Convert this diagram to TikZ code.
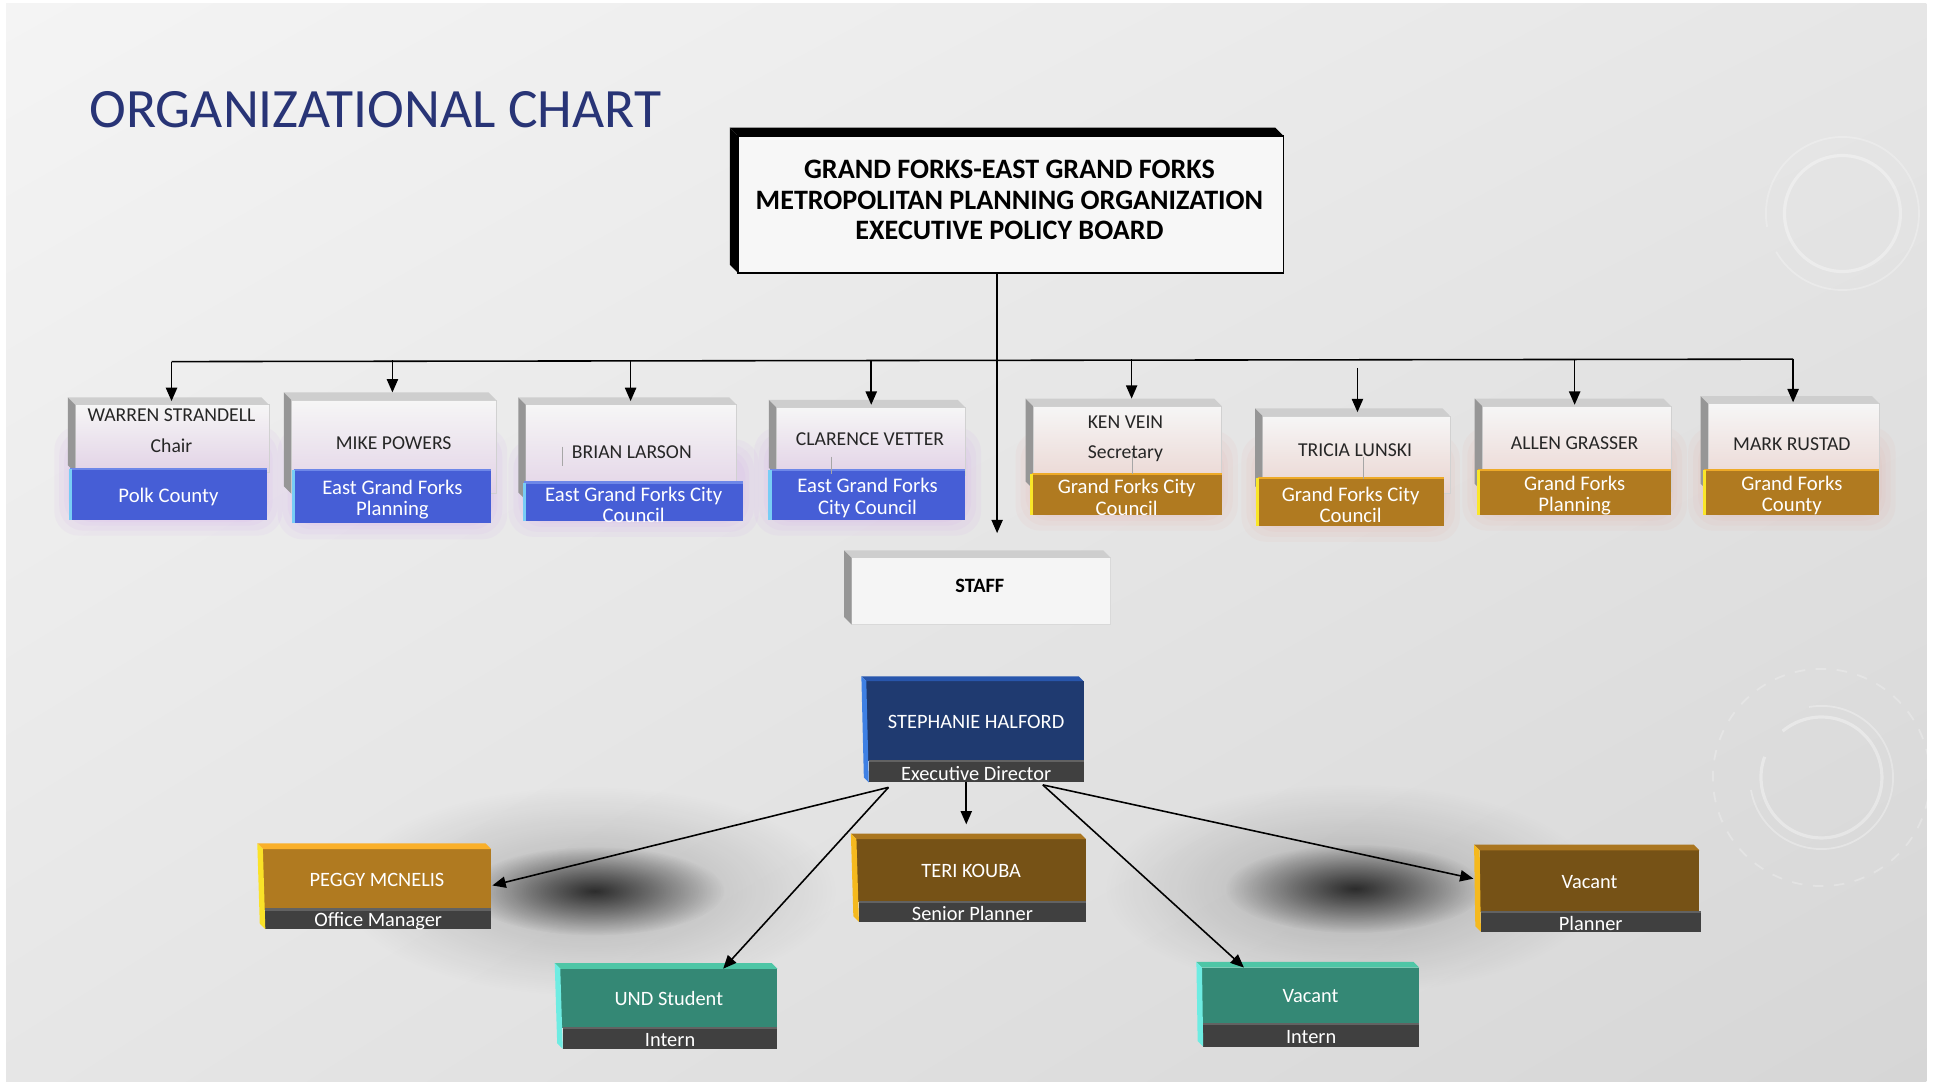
\documentclass[tikz,border=0pt]{standalone}
\usepackage{fontspec}
\setmainfont{Carlito}
\usetikzlibrary{arrows.meta,calc,fit,fadings,shadings}
\tikzfading[name=softblob, inner color=transparent!0, outer color=transparent!100]

\definecolor{bgA}{RGB}{244,244,244}
\definecolor{bgB}{RGB}{230,230,230}
\definecolor{bgC}{RGB}{214,214,214}
\definecolor{titleblue}{RGB}{40,52,118}
\definecolor{lblblue}{RGB}{70,94,214}
\definecolor{edgeblue}{RGB}{120,205,245}
\definecolor{toplblue}{RGB}{110,135,232}
\definecolor{lblorange}{RGB}{176,122,32}
\definecolor{edgeorange}{RGB}{250,230,40}
\definecolor{toplorange}{RGB}{238,170,40}
\definecolor{glowblue}{RGB}{205,150,235}
\definecolor{gloworange}{RGB}{235,165,155}
\definecolor{gbotblue}{RGB}{226,210,230}
\definecolor{gbotorange}{RGB}{234,212,208}
\definecolor{gtop}{RGB}{246,246,246}
\definecolor{gstrip}{RGB}{206,206,206}
\definecolor{gside}{RGB}{150,150,150}
\definecolor{navyface}{RGB}{31,58,112}
\definecolor{navytop}{RGB}{40,86,172}
\definecolor{navyside}{RGB}{62,128,228}
\definecolor{orface}{RGB}{176,122,32}
\definecolor{ortop}{RGB}{250,176,42}
\definecolor{orside}{RGB}{250,226,40}
\definecolor{brface}{RGB}{118,82,22}
\definecolor{brtop}{RGB}{170,118,32}
\definecolor{brside}{RGB}{245,185,30}
\definecolor{tlface}{RGB}{52,136,117}
\definecolor{tltop}{RGB}{78,198,166}
\definecolor{tlside}{RGB}{110,236,226}
\definecolor{dlbl}{RGB}{64,64,64}
\definecolor{dlbltop}{RGB}{98,98,98}

% extrusion: node, depth, top colour, side colour, node whose south-west ends the side strip
\newcommand\extr[5]{%
  \fill[#3] (#1.north west) -- ++(-#2,-#2) -- ($(#1.north east)+(-#2,-#2)$) -- (#1.north east) -- cycle;
  \fill[#4] (#1.north west) -- ++(-#2,-#2) -- ($(#5.south west)+(-#2,-#2)$) -- (#5.south west) -- cycle;
}

\begin{document}
\begin{tikzpicture}[x=0.012341cm, y=-0.012341cm,
  arr/.style={-{Triangle[length=3.8pt,width=3.2pt]}, line width=0.45pt, black},
  line/.style={line width=0.45pt, black},
  gface/.style={inner sep=0, outer sep=0, top color=gtop, bottom color=#1, draw=black!18, line width=0.2pt},
  lbl/.style={inner sep=0, outer sep=0, fill=#1},
  lbltext/.style={inner sep=0, outer sep=0, text=white, align=center, font=\fontsize{5.9}{6.1}\selectfont},
  nmtext/.style={inner sep=0, outer sep=0, align=center, text=black!85, font=\fontsize{5.6}{8.6}\selectfont},
  sface/.style={inner sep=0, outer sep=0, fill=#1},
  sftext/.style={inner sep=0, outer sep=0, text=white, align=center, font=\fontsize{5.8}{7}\selectfont},
  slbl/.style={inner sep=0, outer sep=0, fill=dlbl},
  sltext/.style={inner sep=0, outer sep=0, text=white, align=center, font=\fontsize{5.8}{6}\selectfont},
  deco/.style={white, opacity=0.35, line width=0.9pt},
]
\useasboundingbox (0,0) rectangle (1568,876);
\fill[white] (0,0) rectangle (1568,876);
\shade[upper left=bgA, upper right=bgB, lower left=bgB, lower right=bgC] (5,3) rectangle (1561,876);

% faint decoration
\draw[deco] (1493,173) ++(70:47) arc (70:-340:47);
\draw[deco, line width=0.5pt, opacity=0.25] (1493,173) ++(150:62) arc (150:-190:62);
\draw[deco] (1476,630) ++(200:49) arc (200:-130:49);
\draw[deco, line width=0.5pt, opacity=0.3] (1476,630) ++(170:58) arc (170:-100:58);
\draw[deco, line width=0.5pt, dashed, opacity=0.25] (1476,630) circle [radius=88];
\draw[deco, line width=0.7pt, opacity=0.3] (45,890) ++(95:72) arc (95:0:72);
\draw[deco, line width=0.5pt, opacity=0.25] (45,890) ++(100:90) arc (100:0:90);

% soft shadows
\fill[black, opacity=0.22, path fading=softblob] (478,722) ellipse [x radius=200, y radius=85];
\fill[black, opacity=0.75, path fading=softblob] (482,722) ellipse [x radius=105, y radius=36];
\fill[black, opacity=0.22, path fading=softblob] (1095,720) ellipse [x radius=200, y radius=85];
\fill[black, opacity=0.75, path fading=softblob] (1098,720) ellipse [x radius=105, y radius=36];

% title
\node[anchor=west, inner sep=0, text=titleblue, font=\fontsize{15.8}{19}\selectfont] (title) at (72,89) {ORGANIZATIONAL CHART};

% executive policy board
\node[fit={(598,110) (1040,221)}, inner sep=0, outer sep=0, fill=white!97!black, draw=black, line width=0.5pt] (board) {};
\extr{board}{6.5}{black}{black}{board}
\node[inner sep=0, align=center, font=\bfseries\fontsize{8}{8.8}\selectfont] (board-t) at (818,162)
      {GRAND FORKS-EAST GRAND FORKS\\METROPOLITAN PLANNING ORGANIZATION\\EXECUTIVE POLICY BOARD};

% board members
\foreach \id/\fa/\fb/\la/\lb/\nxy/\nm/\lt/\lcol/\gcol/\ecol/\tcol/\gbot in {
  wa/{61,328}/{218,383}/{57,380}/{216,421}/{139,349}/{WARREN STRANDELL\\Chair}/{Polk County}/lblblue/glowblue/edgeblue/toplblue/gbotblue,
  mp/{236,324}/{402,400}/{238,381}/{398,424}/{319,359}/{MIKE POWERS}/{East Grand Forks\\Planning}/lblblue/glowblue/edgeblue/toplblue/gbotblue,
  bl/{426,328}/{597,405}/{425,391}/{602,422}/{512,366}/{BRIAN LARSON}/{East Grand Forks City\\Council}/lblblue/glowblue/edgeblue/toplblue/gbotblue,
  cv/{629,330}/{782,385}/{624,381}/{782,421}/{705,356}/{CLARENCE VETTER}/{East Grand Forks\\City Council}/lblblue/glowblue/edgeblue/toplblue/gbotblue,
  kv/{837,329}/{990,396}/{836,384}/{990,417}/{912,355.5}/{KEN VEIN\\Secretary}/{Grand Forks City\\Council}/lblorange/gloworange/edgeorange/toplorange/gbotorange,
  tl/{1023,337}/{1175,400}/{1019,387}/{1170,426}/{1098,365}/{TRICIA LUNSKI}/{Grand Forks City\\Council}/lblorange/gloworange/edgeorange/toplorange/gbotorange,
  ag/{1201,329}/{1354,398}/{1198,381}/{1354,417}/{1276,359}/{ALLEN GRASSER}/{Grand Forks\\Planning}/lblorange/gloworange/edgeorange/toplorange/gbotorange,
  mr/{1384,327}/{1523,398}/{1381,381}/{1523,417}/{1452,360}/{MARK RUSTAD}/{Grand Forks\\County}/lblorange/gloworange/edgeorange/toplorange/gbotorange}
{
  \foreach \k in {13,9,5,2}
    \fill[\gcol, opacity=0.08, rounded corners=7] ($(\la)+(-\k,-\k-22)$) rectangle ($(\lb)+(\k,\k)$);
  \node[gface=\gbot, fit={(\fa) (\fb)}] (\id-f) {};
  \extr{\id-f}{6}{gstrip}{gside}{\id-f}
  \node[nmtext] (\id-n) at (\nxy) {\nm};
  \node[lbl=\lcol, fit={(\la) (\lb)}] (\id-l) {};
  \node[lbltext] (\id-lt) at ($(\id-l.center)+(0,2.5)$) {\lt};
  \draw[\tcol, line width=0.6pt] (\id-l.north west) -- (\id-l.north east);
  \draw[\ecol, line width=0.9pt] (\id-l.south west) -- (\id-l.north west);
}

% stray thin lines inside some boxes
\draw[black!35, line width=0.25pt] (456,362) -- (456,378);
\draw[black!35, line width=0.25pt] (674,370) -- (674,384);
\draw[black!35, line width=0.25pt] (918,366) -- (918,384);
\draw[black!35, line width=0.25pt] (1105,370) -- (1105,388);

% staff header
\node[fit={(690,452) (900,506)}, inner sep=0, outer sep=0, fill=white!96!black, draw=black!15, line width=0.2pt] (staff) {};
\extr{staff}{6}{gstrip}{gside}{staff}
\node[inner sep=0, font=\bfseries\fontsize{5.8}{7}\selectfont] (staff-t) at (794,475) {STAFF};

% board connectors
\coordinate (trunk) at ($(board.south)+(-11,0)$);
\coordinate (busL) at (139,293);
\coordinate (busR) at (1453,291);
\draw[line] (busL) -- (busR);
\draw[arr] (trunk) -- ($(staff.north)+(13,-20)$);
\foreach \id/\x/\yy/\t in {wa/139/293/3, mp/318/292/6, bl/511/292/3, cv/706/292/2, kv/917/291/6, tl/1100/298/3, ag/1276/291/1, mr/1453/291/1}
  \draw[arr] (\x,\yy) -- ($(\id-f.north -| \x,0)+(0,-\t)$);

% executive director
\node[sface=navyface, fit={(702,552) (878,617)}] (sh-f) {};
\node[slbl, fit={(704,617) (878,634)}] (sh-l) {};
\draw[dlbltop, line width=0.6pt] (sh-l.north west) -- (sh-l.north east);
\extr{sh-f}{4}{navytop}{navyside}{sh-l}
\node[sftext] (sh-ft) at (791,585) {STEPHANIE HALFORD};
\node[sltext] (sh-lt) at ($(sh-l.center)+(0,1.5)$) {Executive Director};

% staff members
\foreach \id/\fa/\fb/\la/\lb/\nm/\lt/\fc/\tc/\sc in {
  pg/{213,688}/{398,737}/{215,737}/{398,753}/{PEGGY MCNELIS}/{Office Manager}/orface/ortop/orside,
  te/{694,680}/{880,731}/{696,731}/{880,747}/{TERI KOUBA}/{Senior Planner}/brface/brtop/brside,
  vp/{1199,689}/{1377,739}/{1200,739}/{1378,755}/{Vacant}/{Planner}/brface/brtop/brside,
  un/{454,785}/{630,833}/{456,833}/{630,850}/{UND Student}/{Intern}/tlface/tltop/tlside,
  vi/{974,784}/{1150,830}/{975,830}/{1150,848}/{Vacant}/{Intern}/tlface/tltop/tlside}
{
  \node[sface=\fc, fit={(\fa) (\fb)}] (\id-f) {};
  \node[slbl, fit={(\la) (\lb)}] (\id-l) {};
  \draw[dlbltop, line width=0.6pt] (\id-l.north west) -- (\id-l.north east);
  \extr{\id-f}{4.5}{\tc}{\sc}{\id-l}
  \node[sftext] (\id-ft) at ($(\id-f.center)+(0,0.5)$) {\nm};
  \node[sltext] (\id-lt) at ($(\id-l.center)+(0,1.5)$) {\lt};
}

% staff connectors
\coordinate (shA) at ($(sh-l.south west)+(16,4)$);
\coordinate (shB) at ($(sh-l.south west)+(79,0)$);
\coordinate (shC) at ($(sh-l.south west)+(141,2)$);
\draw[arr] (shA) -- ($(pg-f.east)+(1,5)$);
\draw[arr] (shA) -- ($(un-f.north west)!0.75!(un-f.north east)$);
\draw[arr] (shB) -- (shB |- 0,668);
\draw[arr] (shC) -- ($(vi-f.north west)+(34,0)$);
\draw[arr] (shC) -- ($(vp-f.west)+(-5,-2)$);
\end{tikzpicture}
\end{document}
